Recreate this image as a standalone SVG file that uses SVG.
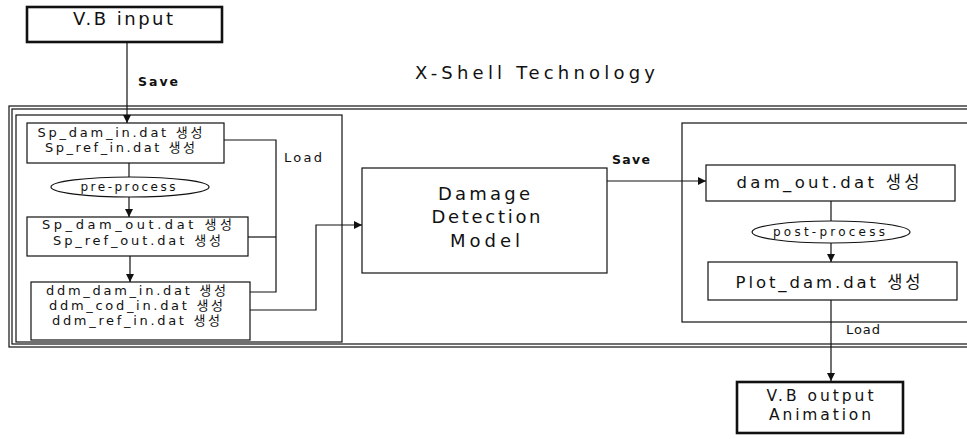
<svg xmlns="http://www.w3.org/2000/svg" width="967" height="439" viewBox="0 0 967 439">
<style>
text{font-family:"DejaVu Sans","Noto Sans CJK KR",sans-serif;fill:#111;}
.t13{font-size:13px;}
.t15{font-size:16.5px;}
.t15b{font-size:15.5px;}
.t16{font-size:18px;}
.lbl{font-size:12.5px;font-weight:bold;}
.lbn{font-size:13px;}
.box{fill:#fff;stroke:#111;stroke-width:1.2;}
.thick{fill:#fff;stroke:#111;stroke-width:2.6;}
.frame{fill:none;stroke:#111;stroke-width:1.2;}
.ln{fill:none;stroke:#111;stroke-width:1.2;}
</style>
<defs>
<marker id="ah" viewBox="0 0 10 10" refX="10" refY="5" markerWidth="8" markerHeight="8" markerUnits="userSpaceOnUse" orient="auto">
<path d="M0,0 L10,5 L0,10 z" fill="#111"/>
</marker>
</defs>
<rect width="967" height="439" fill="#fff"/>

<g id="frame">
<rect class="frame" x="9" y="106" width="970" height="241"/>
<rect class="frame" x="12" y="109" width="967" height="235"/>
<rect id="left-panel" class="frame" x="16" y="115" width="326" height="227"/>
<rect id="right-panel" class="frame" x="682" y="123" width="300" height="199"/>
<text class="t16" x="535" y="79" text-anchor="middle" textLength="240" lengthAdjust="spacing">X-Shell Technology</text>
</g>

<g id="connectors">
<line class="ln" x1="127" y1="42" x2="127" y2="123" marker-end="url(#ah)"/>
<text class="lbl" x="138" y="86" textLength="40" lengthAdjust="spacing">Save</text>
<line class="ln" x1="129" y1="163" x2="129" y2="177"/>
<line class="ln" x1="129" y1="197" x2="129" y2="217" marker-end="url(#ah)"/>
<line class="ln" x1="130" y1="256" x2="130" y2="282" marker-end="url(#ah)"/>
<polyline class="ln" points="224,140 276,140 276,292 250,292"/>
<line class="ln" x1="248" y1="237" x2="276" y2="237"/>
<text class="lbn" x="284" y="162" textLength="38" lengthAdjust="spacing">Load</text>
<polyline class="ln" points="250,310 316,310 316,225 362,225" marker-end="url(#ah)"/>
<line class="ln" x1="607" y1="181" x2="706" y2="181" marker-end="url(#ah)"/>
<text class="lbl" x="612" y="164" textLength="38" lengthAdjust="spacing">Save</text>
<line class="ln" x1="831" y1="201" x2="831" y2="221"/>
<line class="ln" x1="831" y1="243" x2="831" y2="262" marker-end="url(#ah)"/>
<line class="ln" x1="831" y1="300" x2="831" y2="381" marker-end="url(#ah)"/>
<text class="lbn" x="846" y="334" textLength="34" lengthAdjust="spacing">Load</text>
</g>

<g id="vb-input">
<rect class="thick" x="27" y="7" width="195" height="35"/>
<text class="t16" x="123" y="25" text-anchor="middle" textLength="100" lengthAdjust="spacing">V.B input</text>
</g>

<g id="sp-in">
<rect class="box" x="27" y="123" width="197" height="40"/>
<text class="t13" x="120" y="137" text-anchor="middle" textLength="165" lengthAdjust="spacing">Sp_dam_in.dat 생성</text>
<text class="t13" x="120" y="152" text-anchor="middle" textLength="150" lengthAdjust="spacing">Sp_ref_in.dat 생성</text>
</g>

<g id="pre-process">
<ellipse class="box" cx="130" cy="187" rx="79" ry="10"/>
<text x="128" y="191" font-size="12" text-anchor="middle" textLength="95" lengthAdjust="spacing">pre-process</text>
</g>

<g id="sp-out">
<rect class="box" x="27" y="217" width="221" height="39"/>
<text class="t13" x="137" y="229" text-anchor="middle" textLength="190" lengthAdjust="spacing">Sp_dam_out.dat 생성</text>
<text class="t13" x="137" y="245" text-anchor="middle" textLength="168" lengthAdjust="spacing">Sp_ref_out.dat 생성</text>
</g>

<g id="ddm-in">
<rect class="box" x="31" y="282" width="219" height="58"/>
<text class="t13" x="136" y="295" text-anchor="middle" textLength="180" lengthAdjust="spacing">ddm_dam_in.dat 생성</text>
<text class="t13" x="136" y="310" text-anchor="middle" textLength="174" lengthAdjust="spacing">ddm_cod_in.dat 생성</text>
<text class="t13" x="136" y="325" text-anchor="middle" textLength="168" lengthAdjust="spacing">ddm_ref_in.dat 생성</text>
</g>

<g id="ddm-model">
<rect class="box" x="362" y="168" width="245" height="105"/>
<text class="t16" x="484" y="200" text-anchor="middle" textLength="92" lengthAdjust="spacing">Damage</text>
<text class="t16" x="486" y="223" text-anchor="middle" textLength="109" lengthAdjust="spacing">Detection</text>
<text class="t16" x="485" y="247" text-anchor="middle" textLength="70" lengthAdjust="spacing">Model</text>
</g>

<g id="dam-out">
<rect class="box" x="706" y="165" width="249" height="36"/>
<text class="t15" x="828" y="188" text-anchor="middle" textLength="183" lengthAdjust="spacing">dam_out.dat 생성</text>
</g>

<g id="post-process">
<ellipse class="box" cx="831" cy="232" rx="79" ry="11"/>
<text x="829" y="236" font-size="12" text-anchor="middle" textLength="112" lengthAdjust="spacing">post-process</text>
</g>

<g id="plot-dam">
<rect class="box" x="708" y="262" width="249" height="38"/>
<text class="t15" x="828" y="288" text-anchor="middle" textLength="185" lengthAdjust="spacing">Plot_dam.dat 생성</text>
</g>

<g id="vb-output">
<rect class="thick" x="737" y="382" width="166" height="51"/>
<text class="t15b" x="820" y="401" text-anchor="middle" textLength="107" lengthAdjust="spacing">V.B output</text>
<text class="t15b" x="820" y="420" text-anchor="middle" textLength="102" lengthAdjust="spacing">Animation</text>
</g>
</svg>
